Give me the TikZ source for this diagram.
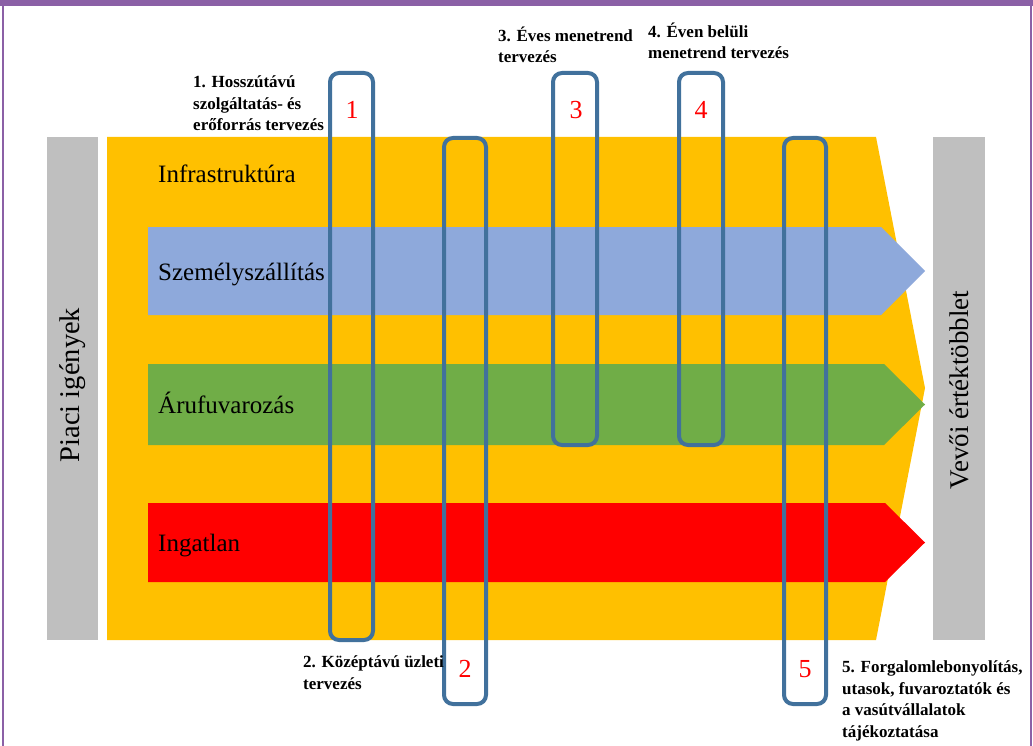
\documentclass[tikz,border=0pt]{standalone}
\usepackage{fontspec}
\setmainfont{Liberation Serif}
\definecolor{frame}{RGB}{139,96,166}
\definecolor{ybg}{RGB}{255,192,0}
\definecolor{barblue}{RGB}{142,169,219}
\definecolor{bargreen}{RGB}{112,173,71}
\definecolor{barred}{RGB}{255,0,0}
\definecolor{sidegray}{RGB}{191,191,191}
\definecolor{boxblue}{RGB}{65,113,156}
\tikzset{
  mainlbl/.style={anchor=base west, inner sep=0pt, font=\fontsize{25}{30}\selectfont},
  sidelbl/.style={rotate=90, inner sep=0pt, font=\fontsize{27}{32}\selectfont},
  steplbl/.style={anchor=base west, inner sep=0pt, align=left, font=\bfseries\fontsize{17}{21.5}\selectfont},
  numlbl/.style={anchor=base, inner sep=0pt, text=red, font=\fontsize{26}{30}\selectfont},
  stagebox/.style={draw=boxblue, line width=4pt, rounded corners=9pt}
}
\begin{document}
\begin{tikzpicture}[x=1pt,y=-1pt]
\useasboundingbox (0,0) rectangle (1033,746);
\fill[white] (0,0) rectangle (1033,746);
% frame
\fill[frame] (0,0) rectangle (1033,6);
\fill[frame] (1.5,0) rectangle (4,746);
\fill[frame] (1029.5,0) rectangle (1032,746);
% side bars
\fill[sidegray] (47,137) rectangle (98,640);
\fill[sidegray] (933,137) rectangle (985,640);
\node[sidelbl, font=\fontsize{28.5}{32}\selectfont] (piaci) at (73,385) {Piaci igények};
\node[sidelbl] (vevoi) at (959,390) {Vevői értéktöbblet};
% yellow background chevron
\fill[ybg] (107,137) -- (876,137) -- (925,388) -- (876,640) -- (107,640) -- cycle;
% arrows
\fill[barblue] (148,227) -- (881,227) -- (925,271) -- (881,315) -- (148,315) -- cycle;
\fill[bargreen] (148,364) -- (884,364) -- (925,404.5) -- (884,445) -- (148,445) -- cycle;
\fill[barred] (148,503) -- (885,503) -- (925,542.5) -- (885,582) -- (148,582) -- cycle;
\node[mainlbl] (infra) at (158,183) {Infrastruktúra};
\node[mainlbl] (szemely) at (158,280) {Személyszállítás};
\node[mainlbl] (aru) at (158,413) {Árufuvarozás};
\node[mainlbl] (ingatlan) at (158,551) {Ingatlan};
% stage boxes
\draw[stagebox] (330,73) rectangle (373,640);
\draw[stagebox] (444,138) rectangle (486,704);
\draw[stagebox] (553,73) rectangle (597,445);
\draw[stagebox] (679,73) rectangle (723,445);
\draw[stagebox] (784,138) rectangle (826,704);
% numbers
\node[numlbl] (n1) at (352,119) {1};
\node[numlbl] (n3) at (576,119) {3};
\node[numlbl] (n4) at (701,119) {4};
\node[numlbl] (n2) at (465,677) {2};
\node[numlbl] (n5) at (805,677) {5};
% step labels (anchored at the baseline of their last line)
\node[steplbl] (l1) at (193,131) {1. Hosszútávú\\szolgáltatás- és\\erőforrás tervezés};
\node[steplbl] (l3) at (498,63) {3. Éves menetrend\\tervezés};
\node[steplbl] (l4) at (648,59) {4. Éven belüli\\menetrend tervezés};
\node[steplbl] (l2) at (303,689) {2. Középtávú üzleti\\tervezés};
\node[steplbl] (l5) at (842,737) {5. Forgalomlebonyolítás,\\utasok, fuvaroztatók és\\a vasútvállalatok\\tájékoztatása};
\end{tikzpicture}
\end{document}
